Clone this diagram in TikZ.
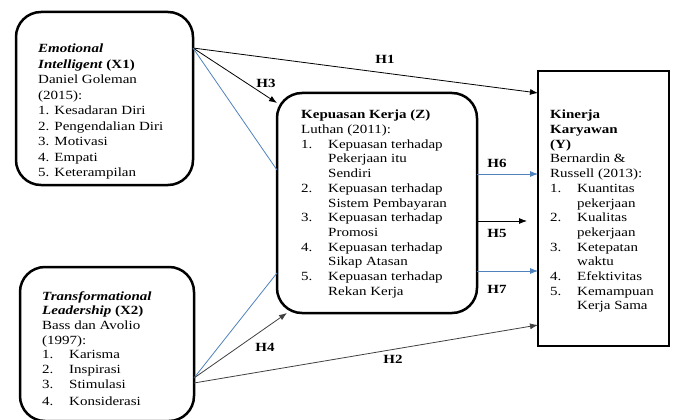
\documentclass[tikz,border=0pt]{standalone}
\usepackage{fontspec}
\setmainfont{Liberation Serif}[FakeStretch=1.2]
\usetikzlibrary{arrows.meta}
\definecolor{hblue}{RGB}{79,129,189}
\newcommand{\nr}[1]{\makebox[27pt][l]{#1}}
\newcommand{\ind}{\hspace*{27pt}}

\begin{document}
\begin{tikzpicture}[x=1pt, y=-1pt,
  box/.style={draw, line width=2.5pt, rounded corners=25pt, inner sep=0pt, outer sep=0pt, anchor=north west},
  txt/.style={align=left, inner sep=0pt, anchor=north west, font=\fontsize{12.5}{14.7}\selectfont},
  blk/.style={-{Latex[length=8pt,width=6pt]}, line width=0.8pt},
  gry/.style={-{Latex[length=8pt,width=6pt]}, line width=0.8pt, black!75},
  blu/.style={line width=0.8pt, hblue},
  blua/.style={-{Latex[length=8pt,width=6pt]}, line width=0.8pt, hblue},
  hyp/.style={font=\fontsize{12.5}{14.7}\selectfont\bfseries, inner sep=1pt}]
  \useasboundingbox (0,0) rectangle (673,420);

  \node[box, minimum width=177pt, minimum height=173pt] (X1) at (16,12) {};
  \node[box, minimum width=174pt, minimum height=154pt] (X2) at (20,267) {};
  \node[box, minimum width=200pt, minimum height=220pt] (Z) at (277,93) {};
  \node[box, sharp corners, minimum width=131pt, minimum height=275pt] (Y) at (538,71) {};

  \node[txt, font=\fontsize{12.5}{15.5}\selectfont] (X1txt) at (38,44)
    {\textbf{\textit{Emotional}}\\ \textbf{\textit{Intelligent} (X1)}\\ Daniel Goleman\\ (2015):\\
     1. Kesadaran Diri\\ 2. Pengendalian Diri\\ 3. Motivasi\\ 4. Empati\\ 5. Keterampilan};
  \node[txt] (X2txt) at (42,291)
    {\textbf{\textit{Transformational}}\\ \textbf{\textit{Leadership} (X2)}\\ Bass dan Avolio\\ (1997):\\
     \nr{1.}Karisma\\ \nr{2.}Inspirasi\\ \nr{3.}Stimulasi\\[3pt] \nr{4.}Konsiderasi};
  \node[txt] (Ztxt) at (301,110)
    {\textbf{Kepuasan Kerja (Z)}\\ Luthan (2011):\\
     \nr{1.}Kepuasan terhadap\\ \ind Pekerjaan itu\\ \ind Sendiri\\
     \nr{2.}Kepuasan terhadap\\ \ind Sistem Pembayaran\\
     \nr{3.}Kepuasan terhadap\\ \ind Promosi\\
     \nr{4.}Kepuasan terhadap\\ \ind Sikap Atasan\\
     \nr{5.}Kepuasan terhadap\\ \ind Rekan Kerja};
  \node[txt] (Ytxt) at (550,110)
    {\textbf{Kinerja}\\ \textbf{Karyawan}\\ \textbf{(Y)}\\ Bernardin \&\\ Russell (2013):\\
     \nr{1.}Kuantitas\\ \ind pekerjaan\\ \nr{2.}Kualitas\\ \ind pekerjaan\\
     \nr{3.}Ketepatan\\ \ind waktu\\ \nr{4.}Efektivitas\\ \nr{5.}Kemampuan\\ \ind Kerja Sama};

  \coordinate (X1o) at (X1.east |- 0,48);
  \coordinate (X2o) at (X2.east |- 0,378);
  \coordinate (X2p) at (X2.east |- 0,383);
  \coordinate (H5e) at (527,221);

  \draw[blk] (X1o) -- (Y.west |- 0,93);
  \draw[blk] (X1o) -- (Z.west |- 0,103);
  \draw[blu] (X1o) -- (Z.west |- 0,170);
  \draw[blu] (X2o) -- (Z.west |- 0,273);
  \draw[gry] (X2o) -- (287,0 |- Z.south);
  \draw[gry] (X2p) -- (Y.west |- 0,325);
  \draw[blua] (Z.east |- 0,174) -- (Y.west |- 0,174);
  \draw[blk] (Z.east |- 0,221) -- (H5e);
  \draw[blua] (Z.east |- 0,271) -- (Y.west |- 0,271);

  \node[hyp] (h1) at (385,59) {H1};
  \node[hyp] (h2) at (393,359) {H2};
  \node[hyp] (h3) at (266,83) {H3};
  \node[hyp] (h4) at (265,347) {H4};
  \node[hyp] (h5) at (497,233) {H5};
  \node[hyp] (h6) at (497,163) {H6};
  \node[hyp] (h7) at (497,289) {H7};
\end{tikzpicture}
\end{document}
